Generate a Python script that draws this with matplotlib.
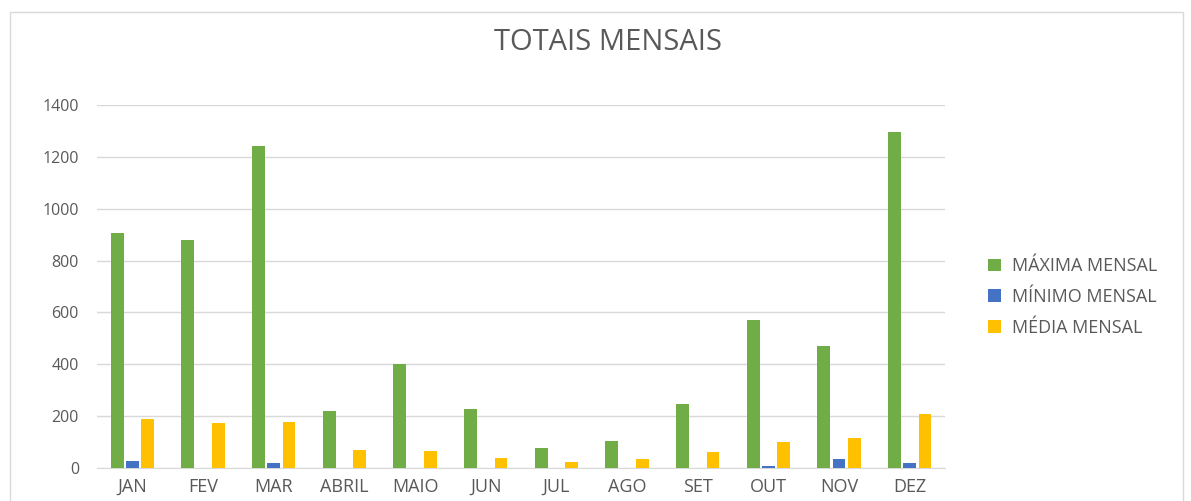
import matplotlib
matplotlib.use("Agg")
import matplotlib.pyplot as plt
import numpy as np
from matplotlib.patches import Rectangle

plt.rcParams["font.family"] = ["Open Sans", "DejaVu Sans"]

months = ["JAN", "FEV", "MAR", "ABRIL", "MAIO", "JUN", "JUL", "AGO", "SET", "OUT", "NOV", "DEZ"]
maxima = [905, 879, 1242, 220, 401, 229, 78, 104, 246, 571, 471, 1296]
minimo = [28, 0, 18, 0, 0, 0, 0, 0, 0, 6, 35, 18]
media = [188, 172, 179, 69, 66, 37, 22, 33, 63, 99, 117, 207]

GREEN = "#70ad47"
BLUE = "#4472c4"
GOLD = "#ffc000"
TXT = "#595959"
GRID = "#d9d9d9"

fig = plt.figure(figsize=(11.91, 5.01), dpi=100)
fig.patch.set_facecolor("white")
ax = fig.add_axes([97 / 1191, 33 / 501, 848 / 1191, 363 / 501])

x = np.arange(len(months))
w = 0.18
step = 0.215
ax.bar(x - step, maxima, w, color=GREEN, label="MÁXIMA MENSAL", zorder=3)
ax.bar(x, minimo, w, color=BLUE, label="MÍNIMO MENSAL", zorder=3)
ax.bar(x + step, media, w, color=GOLD, label="MÉDIA MENSAL", zorder=3)

ax.set_xlim(-0.5, len(months) - 0.5)
ax.set_ylim(0, 1400)
ax.set_yticks(range(0, 1401, 200))
ax.set_xticks(x)
ax.set_xticklabels(months)
ax.yaxis.grid(True, color=GRID, linewidth=1, zorder=0)
for s in ("top", "right", "left"):
    ax.spines[s].set_visible(False)
ax.spines["bottom"].set_color(GRID)
ax.tick_params(axis="both", length=0, colors=TXT)
ax.tick_params(axis="y", pad=13, labelsize=11.5)
ax.tick_params(axis="x", pad=7, labelsize=13)

fig.text(608 / 1191, 1 - 42 / 501, "TOTAIS MENSAIS", ha="center", va="center",
         fontsize=21, color=TXT)

leg = fig.legend(loc="center left", bbox_to_anchor=(972 / 1191, 1 - 297 / 501),
                 frameon=False, fontsize=13, labelcolor=TXT, handlelength=0.7,
                 handleheight=0.7, handletextpad=0.6, labelspacing=0.7)

fig.patches.append(Rectangle((10 / 1191, -0.05), 1173 / 1191, 1.05 - 12 / 501,
                             transform=fig.transFigure, fill=False,
                             edgecolor=GRID, linewidth=1))

fig.savefig("out.png", dpi=100, facecolor="white")
